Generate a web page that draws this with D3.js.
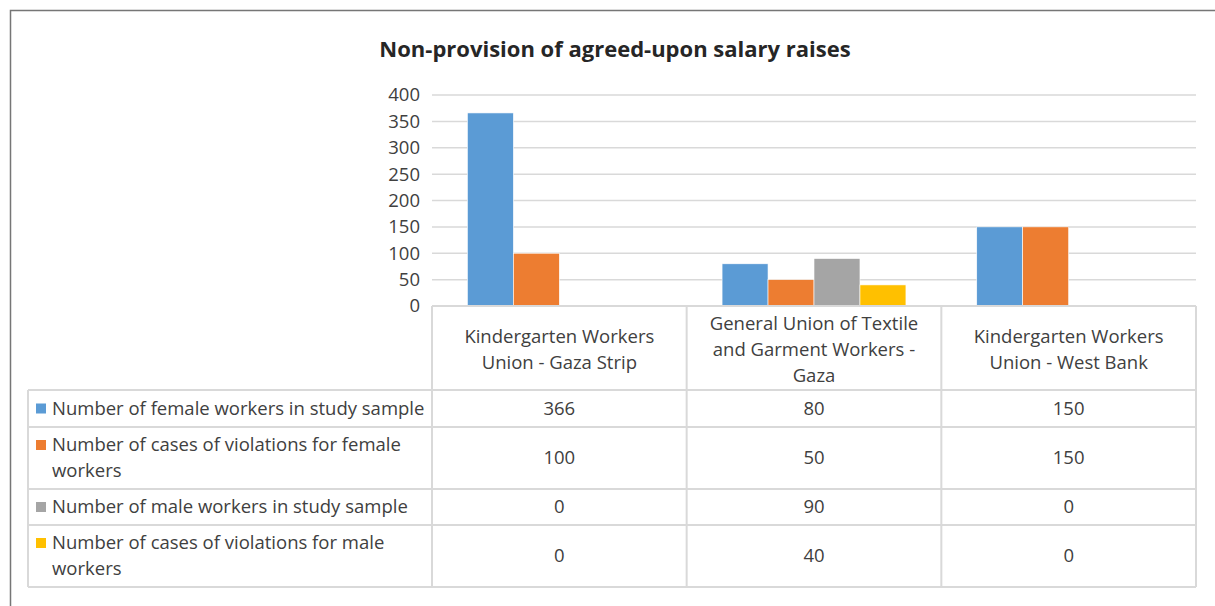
<!DOCTYPE html>
<html>
<head>
  <title>Non-provision of agreed-upon salary raises</title>
  <meta charset="utf8">
  <style type="text/css">
    body { margin: 0; background: #fff; }
    svg text { font-family: "Open Sans", sans-serif; fill: #404040; }
  </style>
</head>
<body>

<script src="https://d3js.org/d3.v7.min.js"></script>

<script type="text/javascript">
var width = 1215, height = 606;

// data
var categories = ['Kindergarten Workers Union - Gaza Strip',
                  'General Union of Textile and Garment Workers - Gaza',
                  'Kindergarten Workers Union - West Bank'];
var categoryLines = [['Kindergarten Workers', 'Union - Gaza Strip'],
                     ['General Union of Textile', 'and Garment Workers -', 'Gaza'],
                     ['Kindergarten Workers', 'Union - West Bank']];
var seriesNames = ['Number of female workers in study sample',
                   'Number of cases of violations for female workers',
                   'Number of male workers in study sample',
                   'Number of cases of violations for male workers'];
var seriesLines = [['Number of female workers in study sample'],
                   ['Number of cases of violations for female', 'workers'],
                   ['Number of male workers in study sample'],
                   ['Number of cases of violations for male', 'workers']];
var femaleSample = [366, 80, 150];
var femaleViolations = [100, 50, 150];
var maleSample = [0, 90, 0];
var maleViolations = [0, 40, 0];
var values = [femaleSample, femaleViolations, maleSample, maleViolations];
var colors = ['#5b9bd5', '#ed7d31', '#a5a5a5', '#ffc000'];
var yTicks = [0, 50, 100, 150, 200, 250, 300, 350, 400];

var plotLeft = 432, plotRight = 1196, plotTop = 95, plotBottom = 306;
var tableLeft = 28, headerBottom = 390;
var rowHeights = [37, 62, 36, 62];
var gridColor = '#d9d9d9';
var fontSize = '18.5px';

var svg = d3.select('body').append('svg')
    .attr('width', width)
    .attr('height', height);

// outer chart frame (only top and left visible)
svg.append('path')
  .attr('d', 'M10.5,' + height + 'V10.5H' + width)
  .attr('fill', 'none')
  .attr('stroke', '#767676')
  .attr('stroke-width', 1.5);

svg.append('text')
  .attr('x', 615)
  .attr('y', 57)
  .attr('text-anchor', 'middle')
  .style('font-size', '22px')
  .style('font-weight', 'bold')
  .style('fill', '#262626')
  .text('Non-provision of agreed-upon salary raises');

var x0 = d3.scaleBand().domain(d3.range(categories.length)).range([plotLeft, plotRight]);
var gap = x0.bandwidth() * 0.139;
var x1 = d3.scaleBand().domain(d3.range(seriesNames.length)).range([gap, x0.bandwidth() - gap]);
var y = d3.scaleLinear().domain([0, 400]).range([plotBottom, plotTop]);

// gridlines
svg.append('g').selectAll('line').data(yTicks.slice(1)).join('line')
  .attr('x1', plotLeft).attr('x2', plotRight)
  .attr('y1', function(d) { return y(d); })
  .attr('y2', function(d) { return y(d); })
  .attr('stroke', gridColor)
  .attr('stroke-width', 1.5);

// y axis labels
var yAxis = svg.append('g')
  .attr('transform', 'translate(' + (plotLeft - 12) + ',0)')
  .call(d3.axisLeft(y).tickValues(yTicks).tickSize(0).tickPadding(0));
yAxis.select('.domain').remove();
yAxis.selectAll('text')
  .style('font-family', '"Open Sans", sans-serif')
  .style('font-size', fontSize)
  .style('fill', '#404040');

// bars
var groups = svg.append('g').selectAll('g').data(categories).join('g')
  .attr('transform', function(d, i) { return 'translate(' + x0(i) + ',0)'; });

groups.selectAll('rect')
  .data(function(d, i) { return values.map(function(v, s) { return { s: s, v: v[i] }; }); })
  .join('rect')
  .attr('x', function(d) { return x1(d.s); })
  .attr('width', x1.bandwidth())
  .attr('y', function(d) { return y(d.v); })
  .attr('height', function(d) { return plotBottom - y(d.v); })
  .attr('fill', function(d) { return colors[d.s]; })
  .attr('stroke', '#fff')
  .attr('stroke-width', 0.6);

// data table
var table = svg.append('g')
  .attr('stroke', gridColor)
  .attr('stroke-width', 2)
  .attr('fill', 'none');

var rowTops = [headerBottom];
rowHeights.forEach(function(h, i) { rowTops.push(rowTops[i] + h); });
var tableBottom = rowTops[rowTops.length - 1];

table.append('line')
  .attr('x1', plotLeft).attr('x2', plotRight)
  .attr('y1', plotBottom).attr('y2', plotBottom);
rowTops.forEach(function(t) {
  table.append('line')
    .attr('x1', tableLeft).attr('x2', plotRight)
    .attr('y1', t).attr('y2', t);
});
table.append('line')
  .attr('x1', tableLeft).attr('x2', tableLeft)
  .attr('y1', headerBottom).attr('y2', tableBottom);
x0.domain().concat([categories.length]).forEach(function(i) {
  var xx = i < categories.length ? x0(i) : plotRight;
  table.append('line')
    .attr('x1', xx).attr('x2', xx)
    .attr('y1', plotBottom).attr('y2', tableBottom);
});

var lineH = 26;

// category header labels
categoryLines.forEach(function(lines, i) {
  var cy = (plotBottom + headerBottom) / 2 + 2;
  var t = svg.append('text')
    .attr('text-anchor', 'middle')
    .style('font-size', fontSize);
  lines.forEach(function(l, k) {
    t.append('tspan')
      .attr('x', x0(i) + x0.bandwidth() / 2)
      .attr('y', cy + (k - (lines.length - 1) / 2) * lineH + 6)
      .text(l);
  });
});

// rows: legend key + values
seriesLines.forEach(function(lines, s) {
  var cy = (rowTops[s] + rowTops[s + 1]) / 2;
  var top = cy - (lines.length - 1) / 2 * lineH;
  svg.append('rect')
    .attr('x', 36).attr('y', top - 5)
    .attr('width', 10).attr('height', 10)
    .attr('fill', colors[s]);
  var t = svg.append('text').style('font-size', fontSize);
  lines.forEach(function(l, k) {
    t.append('tspan')
      .attr('x', 52)
      .attr('y', top + k * lineH + 6)
      .text(l);
  });
  values[s].forEach(function(v, i) {
    svg.append('text')
      .attr('x', x0(i) + x0.bandwidth() / 2)
      .attr('y', cy + 6)
      .attr('text-anchor', 'middle')
      .style('font-size', fontSize)
      .text(v);
  });
});
</script>

</body>
</html>
